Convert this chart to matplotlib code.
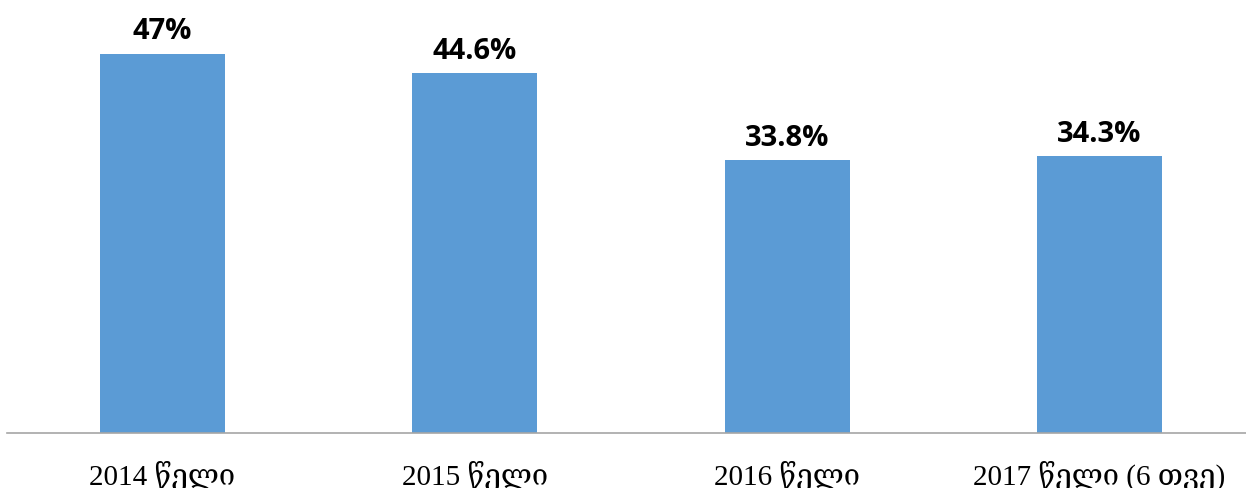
import matplotlib
matplotlib.use("Agg")
import matplotlib.pyplot as plt

categories = ["2014 წელი", "2015 წელი", "2016 წელი", "2017 წელი (6 თვე)"]
values = [47, 44.6, 33.8, 34.3]
value_labels = ["47%", "44.6%", "33.8%", "34.3%"]

fig = plt.figure(figsize=(12.46, 4.89), dpi=100)
ax = fig.add_axes([7/1246, 55.5/489, 1 - 7/1246, 1 - 55.5/489])
x = list(range(len(categories)))
bars = ax.bar(x, values, width=0.4, color="#5B9BD5", zorder=2)
ax.set_xlim(-0.498, 3.469)
ax.set_ylim(0, 53.8)
for xi, v, lab in zip(x, values, value_labels):
    ax.annotate(lab, (xi, v), xytext=(0, 6), textcoords="offset points",
                ha="center", va="bottom", fontsize=21, fontweight="bold",
                family=["Open Sans", "DejaVu Sans"], color="black")
ax.set_xticks(x)
ax.set_xticklabels(categories, fontsize=21, family=["Liberation Serif", "DejaVu Serif", "DejaVu Sans"])
ax.tick_params(axis="x", length=0, pad=19)
ax.set_yticks([])
for s in ["top", "right", "left"]:
    ax.spines[s].set_visible(False)
ax.spines["bottom"].set_color("#A6A6A6")
ax.spines["bottom"].set_linewidth(1.2)
fig.savefig("out.png", dpi=100)
